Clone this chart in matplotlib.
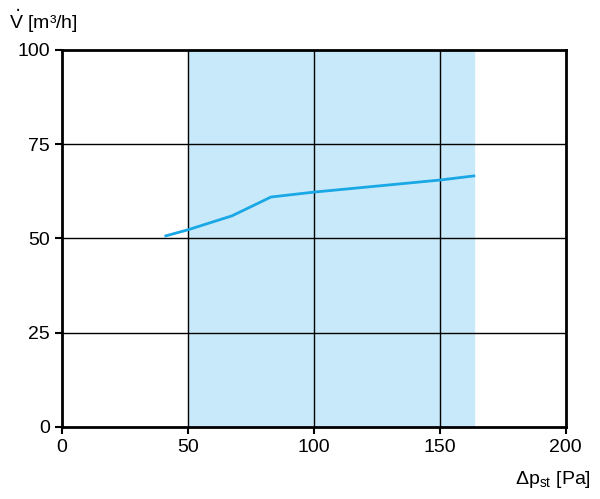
import matplotlib.pyplot as plt

plt.rcParams['font.family'] = ['Liberation Sans Narrow', 'Liberation Sans', 'DejaVu Sans']

# curve
dp = [41.3, 50, 67.5, 83, 100, 150, 163.5]
flow = [50.7, 52.3, 56, 61, 62.3, 65.5, 66.6]
shade_range = (50, 163.5)
xticks = [0, 50, 100, 150, 200]
yticks = [0, 25, 50, 75, 100]

fig = plt.figure(figsize=(6, 4.99), dpi=100)
ax = fig.add_axes([0.103, 0.1443, 0.84, 0.7555])

ax.axvspan(*shade_range, color='#c8e9f9', zorder=0)
for v in xticks[1:-1]:
    ax.axvline(v, color='black', lw=1, zorder=1)
for v in yticks[1:-1]:
    ax.axhline(v, color='black', lw=1, zorder=1)
ax.plot(dp, flow, color='#1aa7e6', lw=2, zorder=2)

ax.set_xlim(0, 200)
ax.set_ylim(0, 100)
ax.set_xticks(xticks)
ax.set_yticks(yticks)
ax.tick_params(labelsize=14, length=5, width=1.5, direction='out')
for s in ax.spines.values():
    s.set_linewidth(2)

fig.text(0.015, 0.957, '$\\dot{\\mathregular{V}}$ [m³/h]', fontsize=14, ha='left', va='center')
fig.text(0.985, 0.04, 'Δp$_{\\mathregular{st}}$ [Pa]', fontsize=14, ha='right', va='center')

fig.savefig('out.png', dpi=100)
